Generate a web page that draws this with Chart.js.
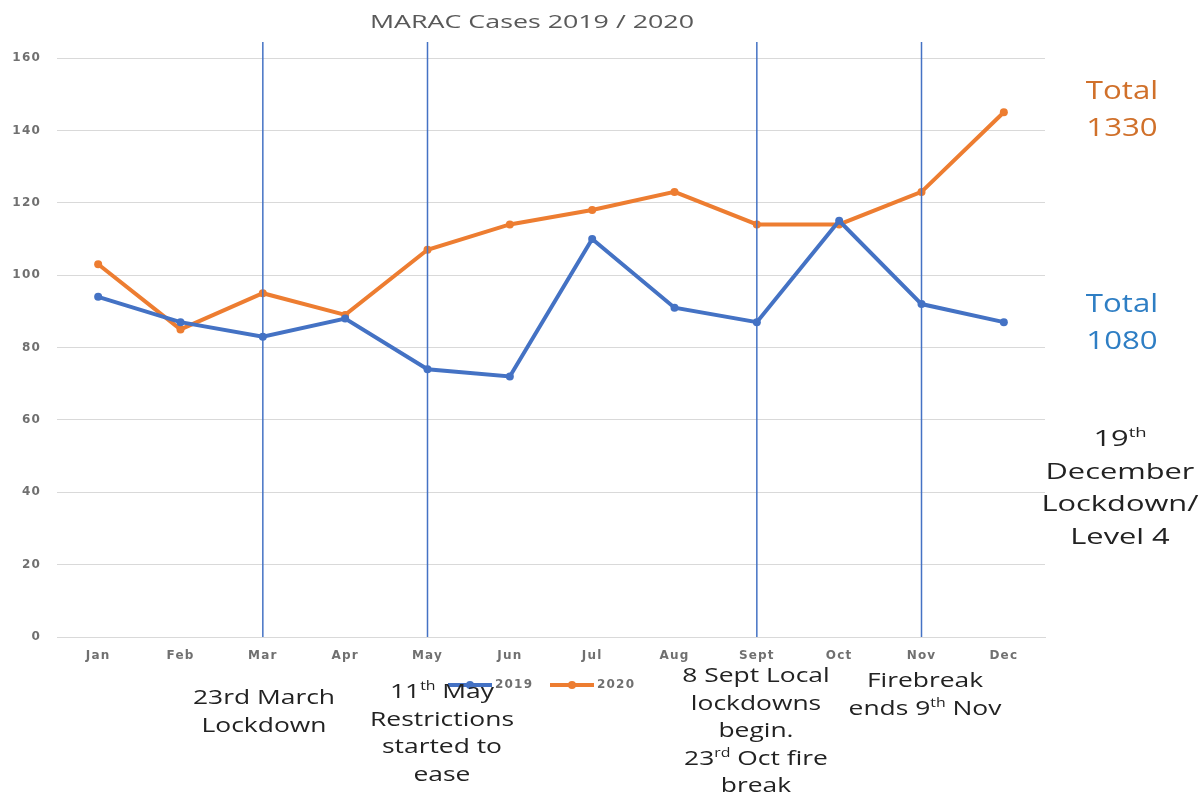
<!DOCTYPE html>
<html>
<head>
<meta charset="utf-8">
<script src="https://cdn.jsdelivr.net/npm/chart.js@4"></script>
<style>
  body { margin: 0; background: #fff; }
  #wrap { position: relative; width: 1200px; height: 794px; overflow: hidden; font-family: "Open Sans", sans-serif; }
  #chart { position: absolute; left: 0; top: 0; }
  .note { position: absolute; text-align: center; white-space: nowrap; color: #222; font-size: 20px; line-height: 27.5px; transform: translateX(-50%) scaleX(1.32); }
  .note sup { font-size: 0.6em; line-height: 0; vertical-align: 0.7em; }
  #title { position: absolute; left: 532px; top: 8px; color: #595959; font-size: 19px; white-space: nowrap; transform: translateX(-50%) scaleX(1.41); }
</style>
</head>
<body>
<div id="wrap">
  <canvas id="chart" width="1200" height="794"></canvas>
  <div id="title">MARAC Cases 2019 / 2020</div>
  <div class="note" style="left:264px; top:683px;">23rd March<br>Lockdown</div>
  <div class="note" style="left:442px; top:677px;">11<sup>th</sup> May<br>Restrictions<br>started to<br>ease</div>
  <div class="note" style="left:756px; top:661px;">8 Sept Local<br>lockdowns<br>begin.<br>23<sup>rd</sup> Oct fire<br>break</div>
  <div class="note" style="left:925px; top:666px;">Firebreak<br>ends 9<sup>th</sup> Nov</div>
  <div class="note" style="left:1122px; top:71px; font-size:26px; line-height:37px; color:#D0702A; transform:translateX(-50%) scaleX(1.2);">Total<br>1330</div>
  <div class="note" style="left:1122px; top:284px; font-size:26px; line-height:37px; color:#2E7EC4; transform:translateX(-50%) scaleX(1.2);">Total<br>1080</div>
  <div class="note" style="left:1120px; top:421px; font-size:22px; line-height:32.5px; transform:translateX(-50%) scaleX(1.4);">19<sup>th</sup><br>December<br>Lockdown/<br>Level 4</div>
</div>
<script>
const months = ['Jan', 'Feb', 'Mar', 'Apr', 'May', 'Jun', 'Jul', 'Aug', 'Sept', 'Oct', 'Nov', 'Dec'];
const cases2019 = [94, 87, 83, 88, 74, 72, 110, 91, 87, 115, 92, 87];
const cases2020 = [103, 85, 95, 89, 107, 114, 118, 123, 114, 114, 123, 145];
const eventMonths = ['Mar', 'May', 'Sept', 'Nov'];
const yTicks = [0, 20, 40, 60, 80, 100, 120, 140, 160];

const blue = '#4472C4';
const orange = '#ED7D31';

// the reference's axis text is wide, so space the letters out a little
const wideText = {
    id: 'wideText',
    beforeDraw(chart) { chart.ctx.letterSpacing = '1.2px'; }
};

// vertical event lines, drawn a bit above the top of the plot
const eventLines = {
    id: 'eventLines',
    afterDatasetsDraw(chart) {
        const { ctx, chartArea, scales } = chart;
        ctx.save();
        ctx.strokeStyle = blue;
        ctx.lineWidth = 1.5;
        eventMonths.forEach(m => {
            const x = scales.x.getPixelForValue(months.indexOf(m));
            ctx.beginPath();
            ctx.moveTo(x, chartArea.top - 16);
            ctx.lineTo(x, chartArea.bottom);
            ctx.stroke();
        });
        ctx.restore();
    }
};

// legend under the month labels
const bottomLegend = {
    id: 'bottomLegend',
    afterDraw(chart) {
        const { ctx, chartArea } = chart;
        const y = chartArea.bottom + 48;
        let x = 448;
        ctx.save();
        ctx.font = 'bold 12px "DejaVu Sans", sans-serif';
        ctx.letterSpacing = '1.2px';
        ctx.textBaseline = 'middle';
        chart.data.datasets.forEach(ds => {
            ctx.strokeStyle = ds.borderColor;
            ctx.lineWidth = 4;
            ctx.beginPath();
            ctx.moveTo(x, y);
            ctx.lineTo(x + 44, y);
            ctx.stroke();
            ctx.fillStyle = ds.borderColor;
            ctx.beginPath();
            ctx.arc(x + 22, y, 4, 0, Math.PI * 2);
            ctx.fill();
            ctx.fillStyle = '#707070';
            ctx.fillText(ds.label, x + 47, y);
            x += 102;
        });
        ctx.restore();
    }
};

const tickFont = { family: 'DejaVu Sans', size: 12, weight: 'bold' };

new Chart(document.getElementById('chart'), {
    type: 'line',
    data: {
        labels: months,
        datasets: [
            { label: '2019', data: cases2019, borderColor: blue, backgroundColor: blue, borderWidth: 4, pointRadius: 4, pointBackgroundColor: blue, pointBorderWidth: 0, tension: 0 },
            { label: '2020', data: cases2020, borderColor: orange, backgroundColor: orange, borderWidth: 4, pointRadius: 4, pointBackgroundColor: orange, pointBorderWidth: 0, tension: 0 }
        ]
    },
    options: {
        responsive: false,
        animation: false,
        layout: { padding: { left: 0, right: 155, top: 58, bottom: 117 } },
        plugins: { legend: { display: false }, tooltip: { enabled: false } },
        scales: {
            x: {
                offset: true,
                grid: { display: false, drawTicks: false },
                border: { display: true, color: '#d9d9d9', width: 1 },
                ticks: { color: '#707070', font: tickFont, padding: 12, maxRotation: 0 },
                afterFit: s => { s.height = 40; }
            },
            y: {
                min: 0, max: 160,
                afterBuildTicks: s => { s.ticks = yTicks.map(v => ({ value: v })); },
                grid: { color: '#d9d9d9', drawTicks: false },
                border: { display: false },
                ticks: { color: '#707070', font: tickFont, padding: 16 },
                afterFit: s => { s.width = 57; }
            }
        }
    },
    plugins: [wideText, eventLines, bottomLegend]
});
</script>
</body>
</html>
